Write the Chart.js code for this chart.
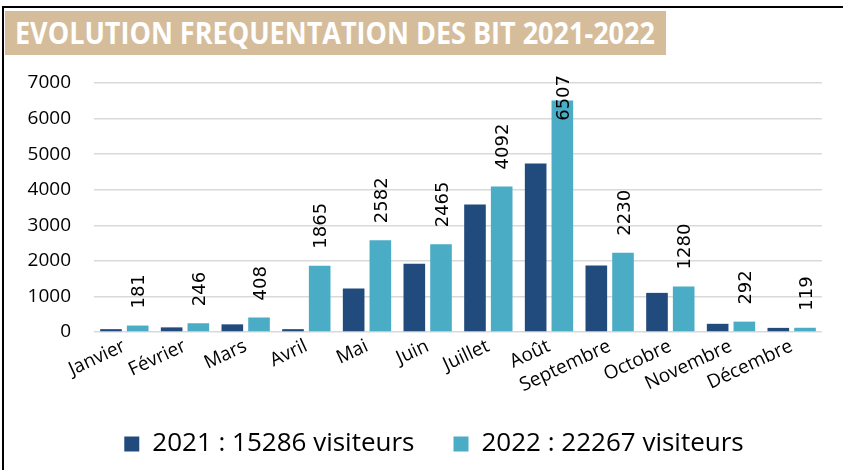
<!DOCTYPE html>
<html lang="fr">
  <head>
    <meta charset="UTF-8" />
    <title>Evolution fréquentation des BIT 2021-2022</title>
    <style>
      * {
        margin: 0;
        padding: 0;
        box-sizing: border-box;
      }
      body {
        width: 843px;
        height: 470px;
        background: white;
        position: relative;
        overflow: hidden;
      }
      .cadre {
        position: absolute;
        left: 2px;
        top: 6px;
        width: 841px;
        height: 470px;
        border-left: 2px solid #000;
        border-top: 2px solid #000;
      }
      .titre {
        position: absolute;
        left: 5px;
        top: 11px;
        width: 661px;
        height: 44px;
        background: #d5bd9b;
        color: white;
        font-family: "Open Sans", sans-serif;
        font-weight: bold;
        font-size: 30px;
        line-height: 44px;
        padding-left: 10px;
        white-space: nowrap;
        z-index: 2;
      }
      .titre span {
        display: inline-block;
        transform-origin: left center;
      }
      #graphique {
        position: absolute;
        left: 0;
        top: 0;
      }
    </style>
    <script src="https://cdn.jsdelivr.net/npm/chart.js"></script>
  </head>
  <body>
    <div class="cadre"></div>
    <div class="titre"><span id="titre">EVOLUTION FREQUENTATION DES BIT 2021-2022</span></div>
    <canvas id="graphique" width="843" height="470"></canvas>

    <script>
      const mois = ["Janvier", "Février", "Mars", "Avril", "Mai", "Juin", "Juillet", "Août", "Septembre", "Octobre", "Novembre", "Décembre"];
      const visiteurs2021 = [80, 130, 215, 80, 1220, 1920, 3585, 4740, 1870, 1100, 230, 116];
      const visiteurs2022 = [181, 246, 408, 1865, 2582, 2465, 4092, 6507, 2230, 1280, 292, 119];
      const legende2021 = "2021 : 15286 visiteurs";
      const legende2022 = "2022 : 22267 visiteurs";
      const ticksY = [0, 1000, 2000, 3000, 4000, 5000, 6000, 7000];

      // titre condensé (pas de police étroite installée)
      const titre = document.getElementById("titre");
      titre.style.transform = `scaleX(${640 / titre.offsetWidth})`;

      // étiquettes verticales au-dessus des barres 2022
      const etiquettes = {
        id: "etiquettes",
        beforeDraw(chart) {
          // décale la légende vers la droite comme dans Excel
          if (!chart.legend._decale) {
            chart.legend.left += 23;
            chart.legend.right += 23;
            chart.legend._decale = true;
          }
        },
        afterDatasetsDraw(chart) {
          const { ctx, chartArea } = chart;
          const meta = chart.getDatasetMeta(1);
          ctx.save();
          ctx.font = "18px 'DejaVu Sans'";
          ctx.fillStyle = "#000";
          ctx.textAlign = "left";
          ctx.textBaseline = "middle";
          meta.data.forEach((bar, i) => {
            const texte = String(visiteurs2022[i]);
            const long = ctx.measureText(texte).width;
            let y = bar.y - 17;
            if (y - long < chartArea.top - 8) y = chartArea.top - 8 + long;
            ctx.save();
            ctx.translate(bar.x + 2, y);
            ctx.rotate(-Math.PI / 2);
            ctx.fillText(texte, 0, 0);
            ctx.restore();
          });
          ctx.restore();
        },
      };

      new Chart(document.getElementById("graphique"), {
        type: "bar",
        data: {
          labels: mois,
          datasets: [
            {
              label: legende2021,
              data: visiteurs2021,
              backgroundColor: "#214a7d",
              categoryPercentage: 0.88,
              barPercentage: 0.81,
            },
            {
              label: legende2022,
              data: visiteurs2022,
              backgroundColor: "#4bacc6",
              categoryPercentage: 0.88,
              barPercentage: 0.81,
            },
          ],
        },
        options: {
          responsive: false,
          animation: false,
          layout: { padding: { left: 0, right: 21, top: 83, bottom: 3 } },
          plugins: {
            legend: {
              position: "bottom",
              labels: {
                boxWidth: 15,
                boxHeight: 15,
                padding: 39,
                color: "#000",
                font: { family: "Open Sans", size: 26 },
              },
            },
            tooltip: { enabled: false },
          },
          scales: {
            x: {
              grid: { display: false, drawTicks: false },
              border: { display: false },
              ticks: {
                color: "#000",
                font: { family: "Open Sans", size: 19 },
                autoSkip: false,
                minRotation: 25,
                maxRotation: 25,
                padding: 3,
              },
              afterFit(axis) {
                axis.height = 60;
              },
            },
            y: {
              min: 0,
              max: 7000,
              afterBuildTicks(axis) {
                axis.ticks = ticksY.map(v => ({ value: v }));
              },
              grid: { color: "#d9d9d9", lineWidth: 1.5, drawTicks: false },
              border: { display: false },
              ticks: {
                color: "#000",
                padding: 23,
                font: { family: "Open Sans", size: 19 },
                callback: v => String(v),
              },
              afterFit(axis) {
                axis.width = 94;
              },
            },
          },
        },
        plugins: [etiquettes],
      });
    </script>
  </body>
</html>
